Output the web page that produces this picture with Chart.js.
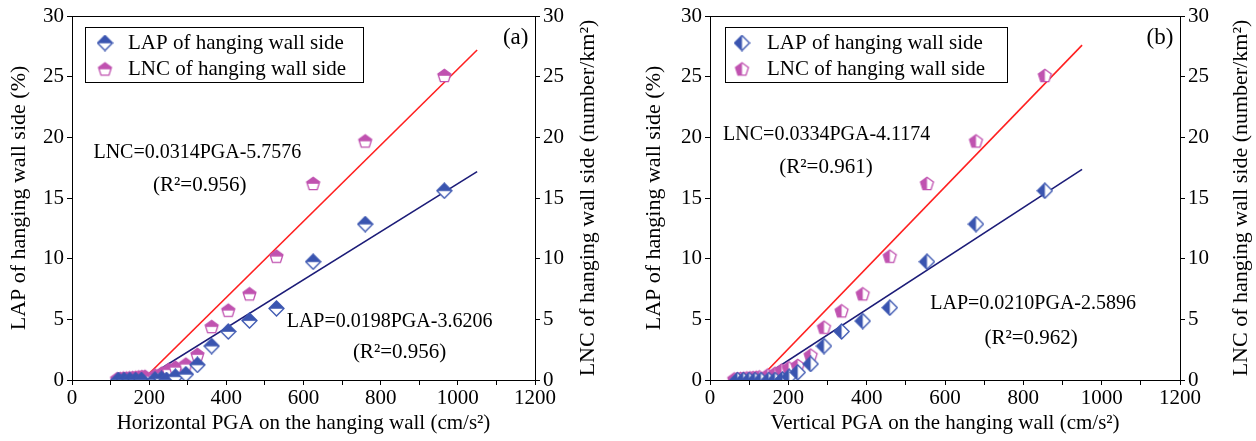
<!DOCTYPE html>
<html lang="en">
<head>
  <meta charset="UTF-8">
  <title>LAP / LNC vs PGA on the hanging wall</title>
  <script src="https://cdn.jsdelivr.net/npm/chart.js"></script>
  <style>
    html, body { margin: 0; padding: 0; background: #fff; }
    #wrap { position: relative; width: 1256px; height: 441px; }
    canvas { position: absolute; top: 0; }
    #chart-a { left: 0; }
    #chart-b { left: 628px; }
  </style>
</head>
<body>
  <div id="wrap">
    <canvas id="chart-a" width="628" height="441"></canvas>
    <canvas id="chart-b" width="628" height="441"></canvas>
  </div>
  <script>
    // (a) horizontal PGA
    const hLapPga = [120, 135, 150, 165, 180, 215, 232, 245, 268, 295, 325, 362, 405, 460, 530, 625, 760, 965];
    const hLapVal = [0, 0, 0, 0, 0, 0.05, 0.1, 0, 0.27, 0.47, 1.25, 2.8, 4.0, 4.9, 5.9, 9.75, 12.85, 15.6];
    const hLncPga = [117, 125, 133, 141, 149, 157, 165, 173, 181, 189, 215, 232, 250, 268, 295, 325, 362, 405, 460, 530, 625, 760, 965];
    const hLncVal = [0.1, 0.12, 0.15, 0.15, 0.18, 0.2, 0.22, 0.25, 0.28, 0.3, 0.4, 0.55, 0.85, 1.05, 1.3, 2.1, 4.4, 5.75, 7.1, 10.2, 16.2, 19.7, 25.1];
    const hLapFitX = [183, 1050];
    const hLapFitY = [0, 17.17];
    const hLncFitX = [183, 1050];
    const hLncFitY = [0, 27.2];

    // (b) vertical PGA
    const vLapPga = [70, 85, 100, 115, 130, 150, 166, 185, 202, 224, 257, 291, 336, 390, 459, 554, 679, 855];
    const vLapVal = [0, 0, 0, 0, 0, 0, 0, 0.05, 0.27, 0.63, 1.32, 2.8, 4.0, 4.86, 5.96, 9.75, 12.85, 15.6];
    const vLncPga = [62, 70, 78, 86, 94, 102, 110, 118, 126, 147, 166, 183, 201, 224, 257, 291, 336, 390, 459, 554, 679, 855];
    const vLncVal = [0.08, 0.1, 0.12, 0.14, 0.16, 0.18, 0.2, 0.22, 0.25, 0.4, 0.55, 0.8, 1.0, 1.2, 2.05, 4.35, 5.7, 7.1, 10.2, 16.2, 19.7, 25.1];
    const vLapFitX = [123, 950];
    const vLapFitY = [0, 17.36];
    const vLncFitX = [123, 950];
    const vLncFitY = [0, 27.6];

    const xTicks = [0, 200, 400, 600, 800, 1000, 1200];
    const yTicks = [0, 5, 10, 15, 20, 25, 30];

    const SERIF = "'Liberation Serif', 'Times New Roman', serif";
    const FS = 21;
    const LAP_COLOR = '#3a55b0';
    const LNC_COLOR = '#c052b0';

    function zip(xs, ys) {
      return xs.map((x, i) => ({ x: x, y: ys[i] }));
    }

    // half filled marker, split = 'top' or 'left'
    function makeMarker(shape, color, split) {
      const c = document.createElement('canvas');
      c.width = 17; c.height = 17;
      const g = c.getContext('2d');
      g.beginPath();
      if (shape === 'diamond') {
        g.moveTo(8.5, 1); g.lineTo(16, 8.5); g.lineTo(8.5, 16); g.lineTo(1, 8.5);
      } else {
        for (let i = 0; i < 5; i++) {
          const a = -Math.PI / 2 + i * 2 * Math.PI / 5;
          const px = 8.5 + 6.8 * Math.cos(a), py = 9.1 + 6.8 * Math.sin(a);
          if (i === 0) g.moveTo(px, py); else g.lineTo(px, py);
        }
      }
      g.closePath();
      g.fillStyle = '#fff';
      g.fill();
      g.save();
      g.clip();
      g.fillStyle = color;
      if (split === 'top') g.fillRect(0, 0, 17, 8.8);
      else g.fillRect(0, 0, 8.5, 17);
      g.restore();
      g.lineWidth = 1.3;
      g.strokeStyle = color;
      g.stroke();
      return c;
    }

    const decor = {
      id: 'decor',
      afterDraw(chart, args, o) {
        const ctx = chart.ctx;
        const a = chart.chartArea;
        const xs = chart.scales.x, ys = chart.scales.y;
        ctx.save();
        // top frame line
        ctx.strokeStyle = '#000';
        ctx.lineWidth = 1;
        ctx.beginPath();
        ctx.moveTo(a.left, a.top + 0.5);
        ctx.lineTo(a.right, a.top + 0.5);
        ctx.stroke();

        // legend box
        const L = o.legend;
        ctx.strokeRect(L.x + 0.5, L.y + 0.5, L.w, L.h);
        ctx.font = FS + 'px ' + SERIF;
        ctx.fillStyle = '#000';
        ctx.textBaseline = 'middle';
        ctx.textAlign = 'left';
        o.legendItems.forEach((it, i) => {
          const yy = L.y + 16 + i * 26;
          ctx.drawImage(it.marker, L.markerX - 8.5, yy - 8.5);
          ctx.fillText(it.text, L.textX, yy);
        });

        // equations and panel label
        ctx.textAlign = 'center';
        o.notes.forEach(n => {
          ctx.font = (n.size || 20) + 'px ' + SERIF;
          ctx.fillText(n.text, xs.getPixelForValue(n.x), ys.getPixelForValue(n.y));
        });

        // right axis title, reading upwards
        ctx.font = '22px ' + SERIF;
        ctx.translate(o.rightTitleX, (a.top + a.bottom) / 2);
        ctx.rotate(-Math.PI / 2);
        ctx.fillText('LNC of hanging wall side (number/km²)', 0, 0);
        ctx.restore();
      }
    };

    function axisFont(size) {
      return { family: SERIF, size: size || FS };
    }

    function buildPanel(id, p) {
      const yScale = (side, width, title) => ({
        type: 'linear',
        position: side,
        min: 0,
        max: 30,
        afterBuildTicks: s => { s.ticks = yTicks.map(v => ({ value: v })); },
        ticks: { font: axisFont(), color: '#000', padding: 3 },
        grid: { drawOnChartArea: false, color: '#000', tickLength: 5 },
        border: { color: '#000', width: 1 },
        title: title ? { display: true, text: title, font: axisFont(22), color: '#000', padding: { top: p.yTitlePad, bottom: 0 } } : { display: false },
        afterFit: s => { s.width = width; }
      });

      new Chart(document.getElementById(id), {
        type: 'scatter',
        data: {
          datasets: [
            { label: 'LAP of hanging wall side', data: zip(p.lapX, p.lapY), pointStyle: p.lapMarker, pointRadius: 7, yAxisID: 'y' },
            { label: 'LNC of hanging wall side', data: zip(p.lncX, p.lncY), pointStyle: p.lncMarker, pointRadius: 7, yAxisID: 'y2' },
            { type: 'line', data: zip(p.lapFitX, p.lapFitY), borderColor: '#1c1c78', borderWidth: 1.6, pointRadius: 0, yAxisID: 'y' },
            { type: 'line', data: zip(p.lncFitX, p.lncFitY), borderColor: '#ff2020', borderWidth: 1.6, pointRadius: 0, yAxisID: 'y2' }
          ]
        },
        options: {
          responsive: false,
          animation: false,
          layout: { padding: { top: 16, left: 0, right: 0, bottom: 0 } },
          plugins: {
            legend: { display: false },
            tooltip: { enabled: false },
            decor: {
              legend: p.legend,
              legendItems: [
                { marker: p.lapMarker, text: 'LAP of hanging wall side' },
                { marker: p.lncMarker, text: 'LNC of hanging wall side' }
              ],
              notes: p.notes,
              rightTitleX: p.rightTitleX
            }
          },
          scales: {
            x: {
              type: 'linear',
              min: 0,
              max: 1200,
              afterBuildTicks: s => {
                const t = [];
                for (let v = 0; v <= 1200; v += 100) t.push({ value: v });
                s.ticks = t;
              },
              ticks: {
                font: axisFont(),
                color: '#000',
                maxRotation: 0,
                autoSkip: false,
                padding: 1,
                callback: v => xTicks.includes(v) ? String(v) : ''
              },
              grid: { drawOnChartArea: false, color: '#000', tickLength: 5 },
              border: { color: '#000', width: 1 },
              title: { display: true, text: p.xTitle, font: axisFont(), color: '#000', padding: { top: 0, bottom: 5 } },
              afterFit: s => { s.height = 61; }
            },
            y: yScale('left', p.leftW, 'LAP of hanging wall side (%)'),
            y2: yScale('right', p.rightW, null)
          }
        },
        plugins: [decor]
      });
    }

    buildPanel('chart-a', {
      lapX: hLapPga, lapY: hLapVal, lncX: hLncPga, lncY: hLncVal,
      lapFitX: hLapFitX, lapFitY: hLapFitY, lncFitX: hLncFitX, lncFitY: hLncFitY,
      lapMarker: makeMarker('diamond', LAP_COLOR, 'top'),
      lncMarker: makeMarker('pentagon', LNC_COLOR, 'top'),
      xTitle: 'Horizontal PGA on the hanging wall (cm/s²)',
      leftW: 72, rightW: 93, yTitlePad: 6, rightTitleX: 588,
      legend: { x: 85, y: 27, w: 278, h: 55, markerX: 105, textX: 128 },
      notes: [
        { text: 'LNC=0.0314PGA-5.7576', x: 325, y: 18.7 },
        { text: '(R²=0.956)', x: 331, y: 16.0, size: 21 },
        { text: 'LAP=0.0198PGA-3.6206', x: 823, y: 4.8 },
        { text: '(R²=0.956)', x: 849, y: 2.3, size: 21 },
        { text: '(a)', x: 1150, y: 28.2, size: 23 }
      ]
    });

    buildPanel('chart-b', {
      lapX: vLapPga, lapY: vLapVal, lncX: vLncPga, lncY: vLncVal,
      lapFitX: vLapFitX, lapFitY: vLapFitY, lncFitX: vLncFitX, lncFitY: vLncFitY,
      lapMarker: makeMarker('diamond', LAP_COLOR, 'left'),
      lncMarker: makeMarker('pentagon', LNC_COLOR, 'left'),
      xTitle: 'Vertical PGA on the hanging wall (cm/s²)',
      leftW: 82, rightW: 76, yTitlePad: 13, rightTitleX: 613,
      legend: { x: 97, y: 27, w: 282, h: 55, markerX: 114, textX: 139 },
      notes: [
        { text: 'LNC=0.0334PGA-4.1174', x: 298, y: 20.2 },
        { text: '(R²=0.961)', x: 296, y: 17.5, size: 21 },
        { text: 'LAP=0.0210PGA-2.5896', x: 825, y: 6.27 },
        { text: '(R²=0.962)', x: 820, y: 3.46, size: 21 },
        { text: '(b)', x: 1149, y: 28.2, size: 23 }
      ]
    });
  </script>
</body>
</html>
